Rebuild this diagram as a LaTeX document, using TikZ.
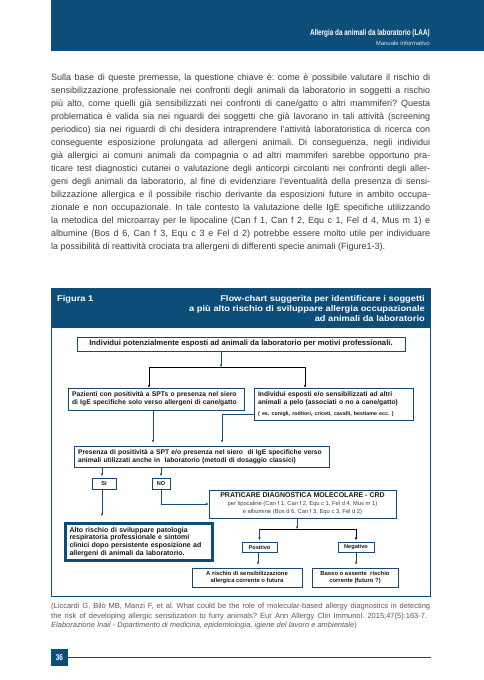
\documentclass[tikz,border=0pt]{standalone}
\usepackage{fontspec}
\setmainfont{Liberation Sans}
\newfontfamily\condfont[FakeStretch=0.75]{Liberation Sans}
\newfontfamily\widefont[FakeStretch=1.12]{Liberation Sans}
\usetikzlibrary{arrows.meta}
\definecolor{hblue}{RGB}{12,77,122}
\definecolor{lblue}{RGB}{25,72,115}
\definecolor{bodygray}{RGB}{60,60,60}
\definecolor{capgray}{RGB}{90,90,90}
\newcommand\jline[1]{\hbox to \hsize{#1}}
\newcommand\lline[1]{\hbox to \hsize{#1\hfil}}
\newcommand\nb[1]{\mbox{#1}}
\frenchspacing
\begin{document}
\begin{tikzpicture}[x=1pt,y=-1pt,
 box/.style={draw=lblue, line width=0.9pt, inner xsep=4pt, inner ysep=0pt, text=black!90, font=\bfseries\fontsize{6.75}{8}\selectfont},
 arr/.style={draw=lblue, line width=0.8pt, -{Stealth[length=3pt,width=2.4pt]}},
 arrk/.style={draw=black, line width=0.9pt, -{Stealth[length=3pt,width=2.4pt]}},
 barline/.style={draw=black, line width=0.9pt},
 txt/.style={inner sep=0pt},
 hdr/.style={txt, text=white, font=\widefont\bfseries\fontsize{8.3}{10}\selectfont}
]
\useasboundingbox (0,0) rectangle (484,680);
\fill[white] (0,0) rectangle (484,680);

% page header
\fill[hblue] (51,0) rectangle (484,51);
\node[txt, anchor=base east, text=white, font=\condfont\bfseries\fontsize{8.5}{10}\selectfont] (htitle) at (430,35) {Allergia da animali da laboratorio (LAA)};
\node[txt, anchor=base east, text=white!85!hblue, font=\fontsize{6}{7}\selectfont] (hsub) at (430,45) {Manuale informativo};

% body text
\node[txt, anchor=base west, text=bodygray, font=\fontsize{9}{13}\selectfont] (body) at (51,80) {\vtop{\hsize=379pt\baselineskip=13pt
\jline{Sulla base di queste premesse, la questione chiave è: come è possibile valutare il rischio di}
\jline{sensibilizzazione professionale nei confronti degli animali da laboratorio in soggetti a rischio}
\jline{più alto, come quelli già sensibilizzati nei confronti di cane/gatto o altri mammiferi? Questa}
\jline{problematica è valida sia nei riguardi dei soggetti che già lavorano in tali attività (screening}
\jline{periodico) sia nei riguardi di chi desidera intraprendere l’attività laboratoristica di ricerca con}
\jline{conseguente esposizione prolungata ad allergeni animali. Di conseguenza, negli individui}
\jline{già allergici ai comuni animali da compagnia o ad altri mammiferi sarebbe opportuno pra-}
\jline{ticare test diagnostici cutanei o valutazione degli anticorpi circolanti nei confronti degli aller-}
\jline{geni degli animali da laboratorio, al fine di evidenziare l’eventualità della presenza di sensi-}
\jline{bilizzazione allergica e il possibile rischio derivante da esposizioni future in ambito occupa-}
\jline{zionale e non occupazionale. In tale contesto la valutazione delle IgE specifiche utilizzando}
\jline{la metodica del microarray per le lipocaline (Can f 1, Can f 2, Equ c 1, Fel d 4, Mus m 1) e}
\jline{albumine (Bos d 6, Can f 3, Equ c 3 e Fel d 2) potrebbe essere molto utile per individuare}
\lline{la possibilità di reattività crociata tra allergeni di differenti specie animali (Figure1-3).}}};

% figure frame and header
\fill[hblue] (51,288) rectangle (430,328);
\draw[hblue, line width=0.9pt] (51,288) rectangle (430,596);
\node[hdr, anchor=base west] (fig) at (57,301) {Figura 1};
\node[hdr, anchor=base east] (ft1) at (425,301) {Flow-chart suggerita per identificare i soggetti};
\node[hdr, anchor=base east] (ft2) at (425,311.3) {a più alto rischio di sviluppare allergia occupazionale};
\node[hdr, anchor=base east] (ft3) at (425,321.6) {ad animali da laboratorio};

% flowchart boxes
\node[box, minimum width=328pt, minimum height=14pt, font=\bfseries\fontsize{7.7}{9}\selectfont] (box1) at (241,344) {Individui potenzialmente esposti ad animali da laboratorio per motivi professionali.};
\node[box, minimum width=176pt, minimum height=22pt, text width=168pt, align=left] (box2) at (156,399)
 {\nb{Pazienti con positività a SPTs o presenza nel siero}\\\nb{di IgE specifiche solo verso allergeni di cane/gatto}};
\node[box, minimum width=159pt, minimum height=32pt, text width=151pt, align=left] (box3) at (333.5,404)
 {\nb{Individui esposti e/o sensibilizzati ad altri}\\\nb{animali a pelo (associati o no a cane/gatto)}\\[2.5pt]\nb{\fontsize{5.3}{6}\selectfont ( es. conigli, roditori, criceti, cavalli, bestiame ecc. )}};
\node[box, minimum width=255pt, minimum height=21pt, text width=247pt, align=left] (box4) at (201.5,456.5)
 {\nb{Presenza di positività a SPT e/o presenza nel siero\ \ di IgE specifiche verso}\\\nb{animali utilizzati anche in\ \ laboratorio (metodi di dosaggio classici)}};
\node[box, minimum width=24pt, minimum height=11pt, inner xsep=0pt, font=\bfseries\fontsize{5.6}{6}\selectfont] (si) at (104,483.5) {SI};
\node[box, minimum width=18pt, minimum height=11pt, inner xsep=0pt, font=\bfseries\fontsize{5.6}{6}\selectfont] (no) at (161,483.5) {NO};
\node[box, minimum width=187pt, minimum height=28pt, align=center, font=\fontsize{5.8}{8}\selectfont, text=black!75] (crd) at (302.5,504)
 {{\bfseries\fontsize{7}{8}\selectfont\color{black!90}PRATICARE DIAGNOSTICA MOLECOLARE - CRD}\\per lipocaline (Can f 1, Can f 2, Equ c 1, Fel d 4, Mus m 1)\\e albumine (Bos d 6, Can f 3, Equ c 3, Fel d 2)};
\node[box, draw=hblue, line width=3pt, minimum width=147pt, minimum height=37pt, text width=139pt, align=left, font=\bfseries\fontsize{7}{7.7}\selectfont] (alto) at (139,542)
 {\nb{Alto rischio di sviluppare patologia}\\\nb{respiratoria professionale e sintomi}\\\nb{clinici dopo persistente esposizione ad}\\\nb{allergeni di animali da laboratorio.}};
\node[box, minimum width=35pt, minimum height=10pt, inner xsep=0pt, font=\bfseries\fontsize{5.6}{6}\selectfont] (pos) at (259.5,547) {Positivo};
\node[box, minimum width=36pt, minimum height=10pt, inner xsep=0pt, font=\bfseries\fontsize{5.6}{6}\selectfont] (neg) at (356,547) {Negativo};
\node[box, minimum width=110pt, minimum height=19pt, align=center, font=\bfseries\fontsize{5.9}{7.2}\selectfont] (ris) at (247,577.5) {A rischio di sensibilizzazione\\allergica corrente o futura};
\node[box, minimum width=86pt, minimum height=19pt, align=center, font=\bfseries\fontsize{5.9}{7.2}\selectfont] (bas) at (355,577.5) {Basso o assente\ \ rischio\\corrente (futuro ?)};

% connectors
\coordinate (j1) at (221,367);
\coordinate (bl) at (149,367);
\coordinate (br) at (305,367);
\draw[arr] (box1.south -| j1) -- (j1);
\draw[barline] (bl) -- (br);
\draw[arrk] (bl) -- (bl |- box2.north);
\draw[arrk] (br) -- (br |- box3.north);
\draw[arr, shorten >=3pt] ([xshift=-3pt]box2.south) -- ([xshift=-3pt]box2.south |- box4.north);
\draw[arr, shorten >=3pt] ([yshift=-10pt]box3.west) -| ([xshift=20.5pt]box4.north);
\draw[arr, shorten >=1.5pt] ([xshift=-2pt]box4.south -| si.north) -- ([xshift=-2pt]si.north);
\draw[arr, shorten >=1.5pt] (box4.south -| no.north) -- (no.north);
\draw[arr, shorten >=6pt] ([xshift=-2pt]si.south) -- ([xshift=-2pt]si.south |- alto.north);
\draw[arr] (no.south) |- (crd.west);
\coordinate (j2) at (297,529);
\coordinate (cl) at (259.5,529);
\coordinate (cr) at (356,529);
\draw[arr] (crd.south -| j2) -- (j2);
\draw[barline] (cl) -- (cr);
\draw[arr, shorten >=1.5pt] (cl) -- (pos.north);
\draw[arrk, shorten >=1.5pt] (cr) -- (neg.north);
\draw[arr, shorten >=3pt] ([xshift=-1.5pt]pos.south) -- ([xshift=-1.5pt]pos.south |- ris.north);
\draw[arr, shorten >=3pt] (neg.south) -- (neg.south |- bas.north);

% caption
\node[txt, anchor=base west, text=capgray, font=\fontsize{7.5}{9.6}\selectfont] (cap) at (51,608.5) {\vtop{\hsize=379pt\baselineskip=9.6pt
\jline{(Liccardi G, Bilò MB, Manzi F, et al. What could be the role of molecular-based allergy diagnostics in detecting}
\hbox to 376pt{the risk of developing allergic sensitization to furry animals? Eur Ann Allergy Clin Immunol. 2015;47(5):163-7.}
\lline{\itshape Elaborazione Inail - Dipartimento di medicina, epidemiologia, igiene del lavoro e ambientale\/\upshape)}}};

% page number
\node[fill=hblue, minimum size=17pt, inner sep=0pt, text=white, font=\condfont\bfseries\fontsize{8.5}{9}\selectfont] (pg) at (59.5,657.5) {36};
\coordinate (pgend) at (431,657.5);
\draw[hblue, line width=0.9pt] (pg.east) -- (pgend);
\end{tikzpicture}
\end{document}
